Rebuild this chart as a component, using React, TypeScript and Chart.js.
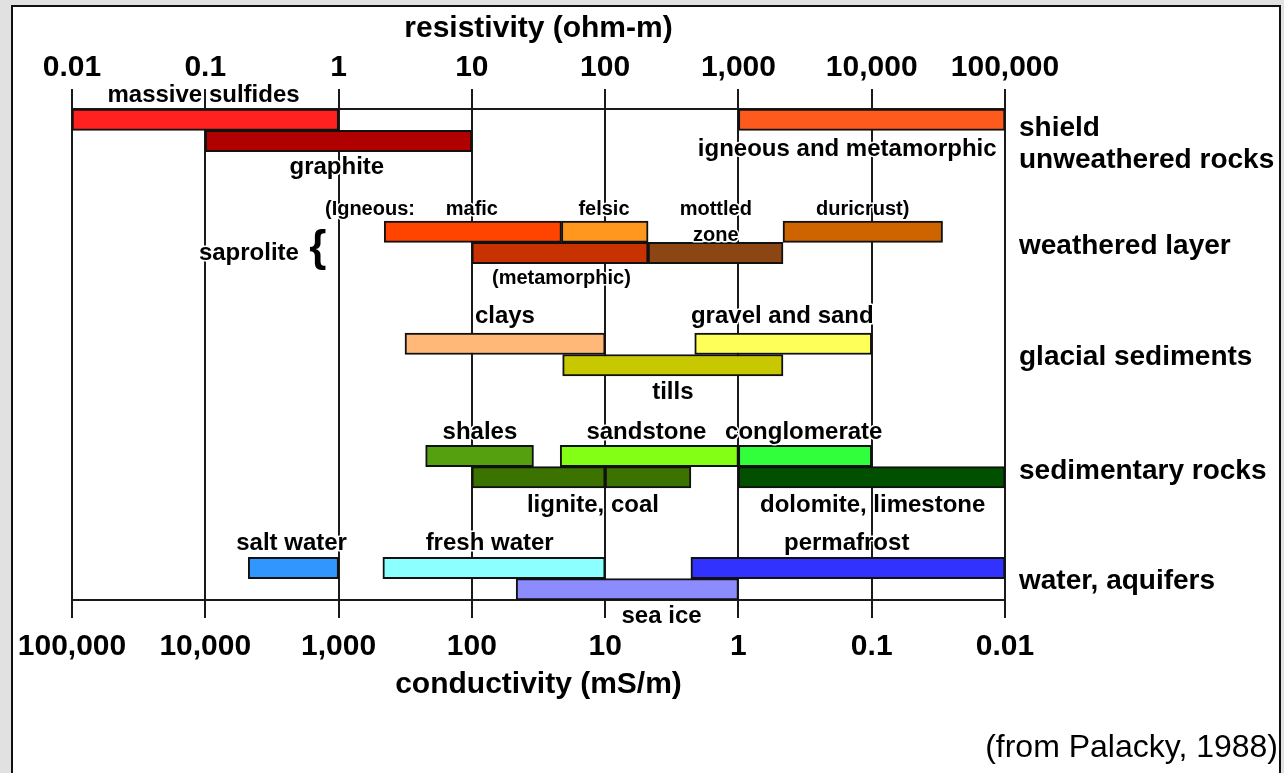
import React, { useEffect, useRef } from "react";
import { Chart, registerables } from "chart.js";

Chart.register(...registerables);

const FONT = "'Liberation Sans', Arial, Helvetica, sans-serif";

// ---- axis ticks ----
const resistivityTicks = [0.01, 0.1, 1, 10, 100, 1000, 10000, 100000];
const resistivityTickLabels = ["0.01", "0.1", "1", "10", "100", "1,000", "10,000", "100,000"];
const conductivityTicks = [100000, 10000, 1000, 100, 10, 1, 0.1, 0.01];
const conductivityTickLabels = ["100,000", "10,000", "1,000", "100", "10", "1", "0.1", "0.01"];

// ---- bars (resistivity ranges, ohm-m) ----
const barNames = [
  "massive sulfides", "graphite", "igneous and metamorphic",
  "mafic", "felsic", "duricrust", "metamorphic", "mottled zone",
  "clays", "gravel and sand", "tills",
  "shales", "sandstone", "conglomerate", "lignite", "coal", "dolomite, limestone",
  "salt water", "fresh water", "permafrost", "sea ice",
];
const barLow = [0.01, 0.1, 1000, 2.2, 47, 2160, 10, 210, 3.15, 470, 48, 4.5, 46, 1000, 10, 100, 1000, 0.21, 2.15, 440, 21.5];
const barHigh = [1, 10, 100000, 47, 210, 34000, 210, 2160, 100, 10000, 2160, 29, 1000, 10000, 100, 440, 100000, 1, 100, 100000, 1000];
const barGroup = [0, 0, 0, 1, 1, 1, 1, 1, 2, 2, 2, 3, 3, 3, 3, 3, 3, 4, 4, 4, 4];
const barLane = [0, 1, 0, 0, 0, 0, 1, 1, 0, 0, 1, 0, 0, 0, 1, 1, 1, 0, 0, 0, 1];
const barColors = [
  "#ff2020", "#b00000", "#ff5a1e",
  "#ff4400", "#ff961e", "#cd6400", "#c83200", "#8c4614",
  "#ffb878", "#ffff5a", "#c8c800",
  "#55a00f", "#82ff14", "#32ff3c", "#3c7300", "#3c7300", "#005000",
  "#3296ff", "#8cffff", "#3232ff", "#8c8cff",
];
const GROUP_SPACING = 5.25;
const TOTAL_ROWS = 23;

// ---- group (category) labels on the right ----
const groupNames: (string | string[])[] = [
  ["shield", "unweathered rocks"],
  "weathered layer",
  "glacial sediments",
  "sedimentary rocks",
  "water, aquifers",
];
const groupLabelRows = [1.66, 6.42, 11.65, 16.97, 22.13];

// ---- text annotations (x in ohm-m, y = baseline row) ----
const labelTexts = [
  "massive sulfides", "graphite", "igneous and metamorphic",
  "(Igneous:", "mafic", "felsic", "mottled", "zone", "duricrust)", "(metamorphic)",
  "saprolite", "{",
  "clays", "gravel and sand", "tills",
  "shales", "sandstone", "conglomerate", "lignite, coal", "dolomite, limestone",
  "salt water", "fresh water", "permafrost", "sea ice",
];
const labelX = [
  0.097, 0.97, 6550,
  1.72, 10, 98, 676, 676, 8560, 47,
  0.2126, 0.7,
  17.7, 2134, 322,
  11.5, 204, 3090, 81, 10170,
  0.444, 13.6, 6490, 265,
];
const labelRow = [
  -0.33, 3.05, 2.18,
  4.96, 4.96, 4.96, 4.96, 6.16, 4.96, 8.19,
  7.09, 7.1,
  10.03, 10.03, 13.57,
  15.45, 15.45, 15.45, 18.86, 18.86,
  20.68, 20.68, 20.68, 24.08,
];
const labelSize = [
  24, 24, 24,
  20, 20, 20, 20, 20, 20, 20,
  24, 44,
  24, 24, 24,
  24, 24, 24, 24, 24,
  24, 24, 24, 24,
];

const caption = "(from Palacky, 1988)";

const W = 1284;
const H = 773;

const backgroundPlugin = {
  id: "bgFrame",
  beforeDraw(chart: any) {
    const ctx = chart.ctx;
    ctx.save();
    ctx.fillStyle = "#e1e1e1";
    ctx.fillRect(0, 0, W, H);
    ctx.fillStyle = "#ffffff";
    ctx.fillRect(12, 6, 1268, H);
    ctx.strokeStyle = "#111";
    ctx.lineWidth = 2;
    ctx.strokeRect(12, 6, 1268, H + 10);
    ctx.restore();
  },
};

const labelPlugin = {
  id: "barLabels",
  afterDatasetsDraw(chart: any) {
    const ctx = chart.ctx;
    const xs = chart.scales.x;
    const ys = chart.scales.y;
    ctx.save();
    ctx.textAlign = "center";
    ctx.textBaseline = "alphabetic";
    ctx.lineJoin = "round";
    for (let i = 0; i < labelTexts.length; i++) {
      ctx.font = `bold ${labelSize[i]}px ${FONT}`;
      const px = xs.getPixelForValue(labelX[i]);
      const py = ys.getPixelForValue(labelRow[i]);
      ctx.strokeStyle = "#ffffff";
      ctx.lineWidth = 3;
      ctx.strokeText(labelTexts[i], px, py);
      ctx.fillStyle = "#000";
      ctx.fillText(labelTexts[i], px, py);
    }
    ctx.font = `32px ${FONT}`;
    ctx.textAlign = "right";
    ctx.fillStyle = "#000";
    ctx.fillText(caption, 1278, 757);
    ctx.restore();
  },
};

export default function App() {
  const ref = useRef<HTMLCanvasElement | null>(null);

  useEffect(() => {
    document.body.style.margin = "0";
    document.body.style.overflow = "hidden";
    const canvas = ref.current;
    if (!canvas) return;

    const data = barLow.map((lo, i) => ({
      x: [lo, barHigh[i]],
      y: barGroup[i] * GROUP_SPACING + barLane[i] + 0.5,
    }));

    const chart = new Chart(canvas, {
      type: "bar",
      data: {
        labels: barNames,
        datasets: [
          {
            label: "resistivity range",
            data: data as any,
            backgroundColor: barColors,
            borderColor: "#111",
            borderWidth: 2,
            borderSkipped: false,
            barPercentage: 1,
            categoryPercentage: 1,
            xAxisID: "x",
            yAxisID: "y",
          } as any,
        ],
      },
      plugins: [backgroundPlugin, labelPlugin],
      options: {
        indexAxis: "y",
        responsive: false,
        animation: false,
        devicePixelRatio: 1,
        layout: { padding: { left: 72, right: 0, top: 0, bottom: 0 } },
        plugins: {
          legend: { display: false },
          tooltip: { enabled: false },
        },
        scales: {
          x: {
            type: "logarithmic",
            position: "top",
            min: 0.01,
            max: 100000,
            offset: false,
            afterBuildTicks: (scale: any) => {
              scale.ticks = resistivityTicks.map((v) => ({ value: v, major: true }));
            },
            afterFit: (scale: any) => {
              scale.height = 109;
            },
            ticks: {
              autoSkip: false,
              maxRotation: 0,
              minRotation: 0,
              padding: 3,
              color: "#000",
              font: { family: FONT, size: 30, weight: "bold" },
              callback: (_v: any, i: number) => resistivityTickLabels[i],
            },
            grid: {
              color: "#1a1a1a",
              lineWidth: 2,
              tickLength: 20,
              drawOnChartArea: true,
              drawTicks: true,
              offset: false,
            },
            border: { display: true, color: "#1a1a1a", width: 2 },
            title: {
              display: true,
              text: "resistivity (ohm-m)",
              color: "#000",
              font: { family: FONT, size: 30, weight: "bold" },
              padding: { top: 11, bottom: 0 },
            },
          },
          x2: {
            type: "logarithmic",
            position: "bottom",
            reverse: true,
            min: 0.01,
            max: 100000,
            offset: false,
            afterBuildTicks: (scale: any) => {
              scale.ticks = conductivityTicks.map((v) => ({ value: v, major: true }));
            },
            afterFit: (scale: any) => {
              scale.height = 173;
            },
            ticks: {
              autoSkip: false,
              maxRotation: 0,
              minRotation: 0,
              padding: 11,
              color: "#000",
              font: { family: FONT, size: 30, weight: "bold" },
              callback: (_v: any, i: number) => conductivityTickLabels[i],
            },
            grid: {
              color: "#1a1a1a",
              lineWidth: 2,
              tickLength: 18,
              drawOnChartArea: false,
              drawTicks: true,
              offset: false,
            },
            border: { display: true, color: "#1a1a1a", width: 2 },
            title: {
              display: true,
              text: "conductivity (mS/m)",
              color: "#000",
              font: { family: FONT, size: 30, weight: "bold" },
              padding: { top: 0, bottom: 70 },
            },
          },
          y: {
            type: "linear",
            display: false,
            reverse: true,
            offset: false,
            min: 0,
            max: TOTAL_ROWS,
            ticks: { stepSize: 1 },
            grid: { offset: false },
          },
          y2: {
            type: "linear",
            position: "right",
            reverse: true,
            offset: false,
            min: 0,
            max: TOTAL_ROWS,
            afterBuildTicks: (scale: any) => {
              scale.ticks = groupLabelRows.map((v) => ({ value: v }));
            },
            afterFit: (scale: any) => {
              scale.width = W - 1005;
            },
            ticks: {
              autoSkip: false,
              crossAlign: "near",
              padding: 14,
              color: "#000",
              font: { family: FONT, size: 28, weight: "bold", lineHeight: 1.15 },
              callback: (_v: any, i: number) => groupNames[i],
            },
            grid: { display: false, drawTicks: false, offset: false },
            border: { display: false },
          },
        },
      } as any,
    });

    return () => {
      chart.destroy();
    };
  }, []);

  return (
    <div style={{ width: W, height: H }}>
      <canvas ref={ref} width={W} height={H} style={{ display: "block" }} />
    </div>
  );
}
